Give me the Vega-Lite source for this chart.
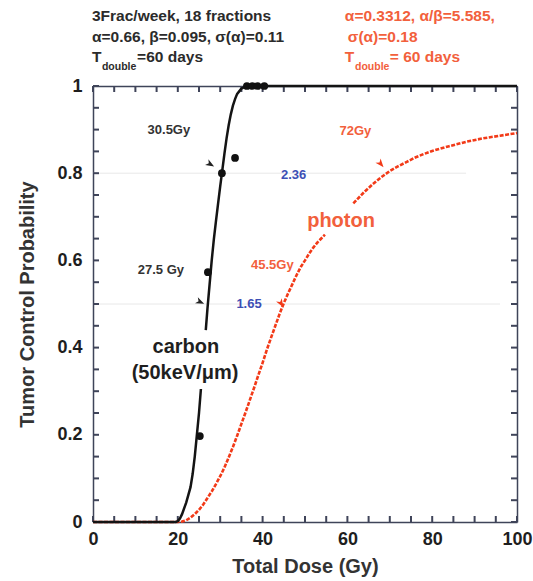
{
  "$schema": "https://vega.github.io/schema/vega-lite/v6.json",
  "width": 424,
  "height": 436,
  "autosize": "none",
  "padding": {"left": 93, "top": 86, "right": 16, "bottom": 59},
  "background": "white",
  "config": {
    "view": {"stroke": null},
    "font": "Liberation Sans",
    "axis": {"labelFont": "Liberation Sans", "titleFont": "Liberation Sans"}
  },
  "datasets": {
    "carbon": [
      {"x": 0, "y": 0, "seg": "a"}, {"x": 19.5, "y": 0, "seg": "a"}, {"x": 20, "y": 0.002, "seg": "a"},
      {"x": 20.5, "y": 0.008, "seg": "a"}, {"x": 21, "y": 0.018, "seg": "a"}, {"x": 22, "y": 0.045, "seg": "a"},
      {"x": 23, "y": 0.08, "seg": "a"}, {"x": 23.5, "y": 0.11, "seg": "a"}, {"x": 24, "y": 0.15, "seg": "a"},
      {"x": 24.5, "y": 0.2, "seg": "a"}, {"x": 25, "y": 0.25, "seg": "a"}, {"x": 25.45, "y": 0.305, "seg": "a"},
      {"x": 26.6, "y": 0.44, "seg": "b"}, {"x": 27, "y": 0.49, "seg": "b"}, {"x": 27.5, "y": 0.545, "seg": "b"},
      {"x": 28, "y": 0.6, "seg": "b"}, {"x": 28.5, "y": 0.648, "seg": "b"}, {"x": 29, "y": 0.69, "seg": "b"},
      {"x": 29.5, "y": 0.73, "seg": "b"}, {"x": 30, "y": 0.77, "seg": "b"}, {"x": 30.5, "y": 0.807, "seg": "b"},
      {"x": 31, "y": 0.845, "seg": "b"}, {"x": 31.5, "y": 0.88, "seg": "b"}, {"x": 32, "y": 0.91, "seg": "b"},
      {"x": 32.5, "y": 0.935, "seg": "b"}, {"x": 33, "y": 0.955, "seg": "b"}, {"x": 33.5, "y": 0.97, "seg": "b"},
      {"x": 34, "y": 0.982, "seg": "b"}, {"x": 35, "y": 0.994, "seg": "b"}, {"x": 36, "y": 0.999, "seg": "b"},
      {"x": 37, "y": 1, "seg": "b"}, {"x": 100, "y": 1, "seg": "b"}
    ],
    "photon": [
      {"x": 0, "y": 0, "seg": "a"}, {"x": 20, "y": 0, "seg": "a"}, {"x": 21, "y": 0.001, "seg": "a"},
      {"x": 22, "y": 0.004, "seg": "a"}, {"x": 23, "y": 0.01, "seg": "a"}, {"x": 24, "y": 0.018, "seg": "a"},
      {"x": 25, "y": 0.028, "seg": "a"}, {"x": 26, "y": 0.04, "seg": "a"}, {"x": 27, "y": 0.055, "seg": "a"},
      {"x": 28, "y": 0.07, "seg": "a"}, {"x": 29, "y": 0.087, "seg": "a"}, {"x": 30, "y": 0.105, "seg": "a"},
      {"x": 31, "y": 0.125, "seg": "a"}, {"x": 32, "y": 0.148, "seg": "a"}, {"x": 33, "y": 0.172, "seg": "a"},
      {"x": 34, "y": 0.198, "seg": "a"}, {"x": 35, "y": 0.225, "seg": "a"}, {"x": 36, "y": 0.252, "seg": "a"},
      {"x": 37, "y": 0.28, "seg": "a"}, {"x": 38, "y": 0.308, "seg": "a"}, {"x": 39, "y": 0.337, "seg": "a"},
      {"x": 40, "y": 0.365, "seg": "a"}, {"x": 41, "y": 0.395, "seg": "a"}, {"x": 42, "y": 0.423, "seg": "a"},
      {"x": 43, "y": 0.45, "seg": "a"}, {"x": 44, "y": 0.477, "seg": "a"}, {"x": 45, "y": 0.502, "seg": "a"},
      {"x": 46, "y": 0.524, "seg": "a"}, {"x": 47, "y": 0.545, "seg": "a"}, {"x": 48, "y": 0.566, "seg": "a"},
      {"x": 49, "y": 0.585, "seg": "a"}, {"x": 50, "y": 0.6, "seg": "a"}, {"x": 51, "y": 0.616, "seg": "a"},
      {"x": 52, "y": 0.63, "seg": "a"}, {"x": 53, "y": 0.642, "seg": "a"}, {"x": 54, "y": 0.652, "seg": "a"},
      {"x": 54.7, "y": 0.659, "seg": "a"},
      {"x": 61.4, "y": 0.731, "seg": "b"}, {"x": 62, "y": 0.737, "seg": "b"}, {"x": 64, "y": 0.757, "seg": "b"},
      {"x": 66, "y": 0.775, "seg": "b"}, {"x": 68, "y": 0.791, "seg": "b"}, {"x": 70, "y": 0.805, "seg": "b"},
      {"x": 72, "y": 0.816, "seg": "b"}, {"x": 74, "y": 0.826, "seg": "b"}, {"x": 76, "y": 0.836, "seg": "b"},
      {"x": 78, "y": 0.844, "seg": "b"}, {"x": 80, "y": 0.851, "seg": "b"}, {"x": 84, "y": 0.862, "seg": "b"},
      {"x": 88, "y": 0.872, "seg": "b"}, {"x": 92, "y": 0.88, "seg": "b"}, {"x": 96, "y": 0.886, "seg": "b"},
      {"x": 100, "y": 0.892, "seg": "b"}
    ],
    "dots": [
      {"x": 25.2, "y": 0.197}, {"x": 27.1, "y": 0.573}, {"x": 30.4, "y": 0.8}, {"x": 33.5, "y": 0.835},
      {"x": 36.3, "y": 1}, {"x": 37.6, "y": 1}, {"x": 38.8, "y": 1}, {"x": 40.4, "y": 1}
    ],
    "guides": [
      {"x": 0, "x2": 88, "y": 0.8},
      {"x": 0, "x2": 96, "y": 0.5}
    ],
    "xticks": [
      {"v": 0}, {"v": 5}, {"v": 10}, {"v": 15}, {"v": 20}, {"v": 25}, {"v": 30}, {"v": 35}, {"v": 40}, {"v": 45},
      {"v": 50}, {"v": 55}, {"v": 60}, {"v": 65}, {"v": 70}, {"v": 75}, {"v": 80}, {"v": 85}, {"v": 90}, {"v": 95}, {"v": 100}
    ],
    "yticks": [
      {"v": 0}, {"v": 0.05}, {"v": 0.1}, {"v": 0.15}, {"v": 0.2}, {"v": 0.25}, {"v": 0.3}, {"v": 0.35}, {"v": 0.4}, {"v": 0.45},
      {"v": 0.5}, {"v": 0.55}, {"v": 0.6}, {"v": 0.65}, {"v": 0.7}, {"v": 0.75}, {"v": 0.8}, {"v": 0.85}, {"v": 0.9}, {"v": 0.95}, {"v": 1}
    ],
    "arrows": [
      {"name": "30.5", "x": 27.6, "y": 0.821},
      {"name": "27.5", "x": 25.2, "y": 0.505},
      {"name": "72", "x": 67.8, "y": 0.822},
      {"name": "45.5", "x": 44.3, "y": 0.502}
    ],
    "header": [
      {"text": "3Frac/week, 18 fractions", "x": -0.24, "y": 1.1606, "g": "hd"},
      {"text": "α=0.66, β=0.095, σ(α)=0.11", "x": -0.24, "y": 1.1124, "g": "hd"},
      {"text": "T", "x": -0.24, "y": 1.0665, "g": "hd"},
      {"text": "double", "x": 2.1, "y": 1.0436, "g": "sd"},
      {"text": "=60 days", "x": 10.4, "y": 1.0665, "g": "hd"},
      {"text": "α=0.3312, α/β=5.585,", "x": 59.4, "y": 1.1606, "g": "hr"},
      {"text": "σ(α)=0.18", "x": 60.1, "y": 1.1124, "g": "hr"},
      {"text": "T", "x": 59.4, "y": 1.0665, "g": "hr"},
      {"text": "double", "x": 61.8, "y": 1.0436, "g": "sr"},
      {"text": "= 60 days", "x": 70.0, "y": 1.0665, "g": "hr"}
    ],
    "notes": [
      {"text": "30.5Gy", "x": 17.9, "y": 0.9, "g": "ad"},
      {"text": "27.5 Gy", "x": 16.0, "y": 0.578, "g": "ad"},
      {"text": "45.5Gy", "x": 42.3, "y": 0.589, "g": "ar"},
      {"text": "72Gy", "x": 61.9, "y": 0.897, "g": "ar"},
      {"text": "1.65", "x": 36.8, "y": 0.5, "g": "ab"},
      {"text": "2.36", "x": 47.3, "y": 0.796, "g": "ab"},
      {"text": "carbon", "x": 21.9, "y": 0.402, "g": "bd"},
      {"text": "(50keV/μm)", "x": 21.7, "y": 0.342, "g": "bd"},
      {"text": "photon", "x": 58.5, "y": 0.691, "g": "br"}
    ]
  },
  "resolve": {"axis": {"x": "independent", "y": "independent"}},
  "layer": [
    {
      "data": {"name": "guides"},
      "mark": {"type": "rule", "color": "#e8e8e8", "strokeWidth": 1},
      "encoding": {
        "x": {
          "field": "x", "type": "quantitative", "scale": {"domain": [0, 100], "nice": false},
          "axis": {
            "orient": "bottom", "values": [0, 20, 40, 60, 80, 100], "format": "d",
            "labelOverlap": false, "labelFlush": false, "ticks": false,
            "domainColor": "#3f4459", "domainWidth": 1.5, "grid": false,
            "labelFontSize": 18, "labelFontWeight": "bold", "labelColor": "#1e1e1e", "labelPadding": 8,
            "title": "Total Dose (Gy)", "titleFontSize": 20, "titleFontWeight": "bold", "titleColor": "#333333", "titlePadding": 8
          }
        },
        "x2": {"field": "x2"},
        "y": {
          "field": "y", "type": "quantitative", "scale": {"domain": [0, 1], "nice": false},
          "axis": {
            "orient": "left", "values": [0, 0.2, 0.4, 0.6, 0.8, 1],
            "labelExpr": "format(datum.value, '.1~f')",
            "labelOverlap": false, "labelFlush": false, "ticks": false,
            "domainColor": "#3f4459", "domainWidth": 1.5, "grid": false,
            "labelFontSize": 18, "labelFontWeight": "bold", "labelColor": "#1e1e1e", "labelPadding": 11,
            "title": "Tumor Control Probability", "titleFontSize": 20, "titleFontWeight": "bold", "titleColor": "#333333", "titlePadding": 19
          }
        }
      }
    },
    {
      "data": {"name": "xticks"},
      "mark": {"type": "rule", "color": "#3f4459", "strokeWidth": 2},
      "encoding": {
        "x": {
          "field": "v", "type": "quantitative", "scale": {"domain": [0, 100], "nice": false},
          "axis": {"orient": "top", "labels": false, "ticks": false, "title": null, "grid": false,
                   "domainColor": "#3f4459", "domainWidth": 1.5}
        },
        "y": {
          "datum": 0, "type": "quantitative", "scale": {"domain": [0, 1], "nice": false},
          "axis": {"orient": "right", "labels": false, "ticks": false, "title": null, "grid": false,
                   "domainColor": "#3f4459", "domainWidth": 1.5}
        },
        "y2": {"datum": 0.0138}
      }
    },
    {
      "data": {"name": "xticks"},
      "mark": {"type": "rule", "color": "#3f4459", "strokeWidth": 2},
      "encoding": {
        "x": {"field": "v", "type": "quantitative", "scale": {"domain": [0, 100], "nice": false}, "axis": null},
        "y": {"datum": 1, "type": "quantitative", "scale": {"domain": [0, 1], "nice": false}, "axis": null},
        "y2": {"datum": 0.9862}
      }
    },
    {
      "data": {"name": "yticks"},
      "mark": {"type": "rule", "color": "#3f4459", "strokeWidth": 2},
      "encoding": {
        "y": {"field": "v", "type": "quantitative", "scale": {"domain": [0, 1], "nice": false}, "axis": null},
        "x": {"datum": 0, "type": "quantitative", "scale": {"domain": [0, 100], "nice": false}, "axis": null},
        "x2": {"datum": 1.42}
      }
    },
    {
      "data": {"name": "yticks"},
      "mark": {"type": "rule", "color": "#3f4459", "strokeWidth": 2},
      "encoding": {
        "y": {"field": "v", "type": "quantitative", "scale": {"domain": [0, 1], "nice": false}, "axis": null},
        "x": {"datum": 100, "type": "quantitative", "scale": {"domain": [0, 100], "nice": false}, "axis": null},
        "x2": {"datum": 98.58}
      }
    },
    {
      "data": {"name": "photon"},
      "mark": {"type": "line", "color": "#f23a18", "strokeWidth": 2.6, "strokeDash": [4, 1.5]},
      "encoding": {
        "x": {"field": "x", "type": "quantitative", "scale": {"domain": [0, 100], "nice": false}, "axis": null},
        "y": {"field": "y", "type": "quantitative", "scale": {"domain": [0, 1], "nice": false}, "axis": null},
        "detail": {"field": "seg"}
      }
    },
    {
      "data": {"name": "carbon"},
      "mark": {"type": "line", "color": "#141414", "strokeWidth": 2.5},
      "encoding": {
        "x": {"field": "x", "type": "quantitative", "scale": {"domain": [0, 100], "nice": false}, "axis": null},
        "y": {"field": "y", "type": "quantitative", "scale": {"domain": [0, 1], "nice": false}, "axis": null},
        "detail": {"field": "seg"}
      }
    },
    {
      "data": {"name": "dots"},
      "mark": {"type": "point", "filled": true, "color": "#111111", "size": 60, "opacity": 1},
      "encoding": {
        "x": {"field": "x", "type": "quantitative", "scale": {"domain": [0, 100], "nice": false}, "axis": null},
        "y": {"field": "y", "type": "quantitative", "scale": {"domain": [0, 1], "nice": false}, "axis": null}
      }
    },
    {
      "data": {"name": "arrows"},
      "transform": [{"filter": "datum.name === '30.5'"}],
      "mark": {"type": "point", "filled": true, "color": "#222222", "opacity": 1, "size": 90, "angle": 120, "shape": "M0,-1L0.7,0.8L0,0.3L-0.7,0.8Z"},
      "encoding": {
        "x": {"field": "x", "type": "quantitative", "scale": {"domain": [0, 100], "nice": false}, "axis": null},
        "y": {"field": "y", "type": "quantitative", "scale": {"domain": [0, 1], "nice": false}, "axis": null}
      }
    },
    {
      "data": {"name": "arrows"},
      "transform": [{"filter": "datum.name === '27.5'"}],
      "mark": {"type": "point", "filled": true, "color": "#222222", "opacity": 1, "size": 90, "angle": 115, "shape": "M0,-1L0.7,0.8L0,0.3L-0.7,0.8Z"},
      "encoding": {
        "x": {"field": "x", "type": "quantitative", "scale": {"domain": [0, 100], "nice": false}, "axis": null},
        "y": {"field": "y", "type": "quantitative", "scale": {"domain": [0, 1], "nice": false}, "axis": null}
      }
    },
    {
      "data": {"name": "arrows"},
      "transform": [{"filter": "datum.name === '72'"}],
      "mark": {"type": "point", "filled": true, "color": "#f23a18", "opacity": 1, "size": 90, "angle": 140, "shape": "M0,-1L0.7,0.8L0,0.3L-0.7,0.8Z"},
      "encoding": {
        "x": {"field": "x", "type": "quantitative", "scale": {"domain": [0, 100], "nice": false}, "axis": null},
        "y": {"field": "y", "type": "quantitative", "scale": {"domain": [0, 1], "nice": false}, "axis": null}
      }
    },
    {
      "data": {"name": "arrows"},
      "transform": [{"filter": "datum.name === '45.5'"}],
      "mark": {"type": "point", "filled": true, "color": "#f23a18", "opacity": 1, "size": 90, "angle": 150, "shape": "M0,-1L0.7,0.8L0,0.3L-0.7,0.8Z"},
      "encoding": {
        "x": {"field": "x", "type": "quantitative", "scale": {"domain": [0, 100], "nice": false}, "axis": null},
        "y": {"field": "y", "type": "quantitative", "scale": {"domain": [0, 1], "nice": false}, "axis": null}
      }
    },
    {
      "data": {"name": "header"},
      "mark": {"type": "text", "align": "left", "baseline": "middle", "fontWeight": "bold", "font": "Liberation Sans"},
      "encoding": {
        "x": {"field": "x", "type": "quantitative", "scale": {"domain": [0, 100], "nice": false}, "axis": null},
        "y": {"field": "y", "type": "quantitative", "scale": {"domain": [0, 1], "nice": false}, "axis": null},
        "text": {"field": "text"},
        "color": {"field": "g", "type": "nominal", "legend": null,
          "scale": {"domain": ["hd", "hr", "sd", "sr", "ad", "ar", "ab", "bd", "br"],
                    "range": ["#2b2b2b", "#f2603c", "#2b2b2b", "#f2603c", "#333333", "#f2603c", "#3d4fb5", "#1f1f1f", "#f2603c"]}},
        "size": {"field": "g", "type": "nominal", "legend": null,
          "scale": {"type": "ordinal", "domain": ["hd", "hr", "sd", "sr", "ad", "ar", "ab", "bd", "br"],
                    "range": [15.5, 15.5, 10.5, 10.5, 13, 13, 13, 20, 20]}}
      }
    },
    {
      "data": {"name": "notes"},
      "mark": {"type": "text", "align": "center", "baseline": "middle", "fontWeight": "bold", "font": "Liberation Sans"},
      "encoding": {
        "x": {"field": "x", "type": "quantitative", "scale": {"domain": [0, 100], "nice": false}, "axis": null},
        "y": {"field": "y", "type": "quantitative", "scale": {"domain": [0, 1], "nice": false}, "axis": null},
        "text": {"field": "text"},
        "color": {"field": "g", "type": "nominal", "legend": null,
          "scale": {"domain": ["hd", "hr", "sd", "sr", "ad", "ar", "ab", "bd", "br"],
                    "range": ["#2b2b2b", "#f2603c", "#2b2b2b", "#f2603c", "#333333", "#f2603c", "#3d4fb5", "#1f1f1f", "#f2603c"]}},
        "size": {"field": "g", "type": "nominal", "legend": null,
          "scale": {"type": "ordinal", "domain": ["hd", "hr", "sd", "sr", "ad", "ar", "ab", "bd", "br"],
                    "range": [15.5, 15.5, 10.5, 10.5, 13, 13, 13, 20, 20]}}
      }
    }
  ]
}
